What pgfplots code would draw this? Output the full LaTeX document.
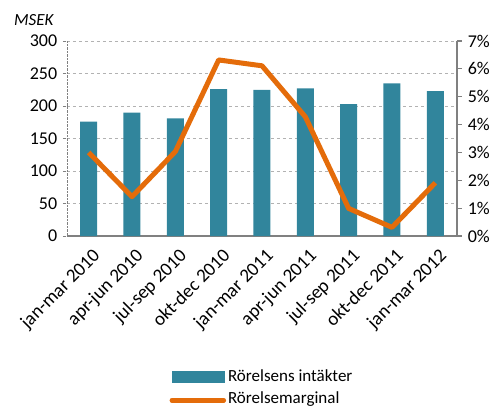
\documentclass[border=0pt]{standalone}
\usepackage{fontspec}
\setmainfont{Carlito}
\usepackage{pgfplots}
\pgfplotsset{compat=1.18}
\definecolor{barcol}{HTML}{31859C}
\definecolor{linecol}{HTML}{E46C0A}
\begin{document}
\fontsize{17}{20}\selectfont
\begin{tikzpicture}
\useasboundingbox (-67pt,-172pt) rectangle (432pt,236pt);
\begin{axis}[
 scale only axis, width=390pt, height=195pt,
 at={(0,0)}, anchor=south west, clip=false,
 xmin=-0.5, xmax=8.5, ymin=0, ymax=300,
 ytick={0,50,...,300},
 xtick={0,...,8},
 xticklabels={jan-mar 2010,apr-jun 2010,jul-sep 2010,okt-dec 2010,jan-mar 2011,apr-jun 2011,jul-sep 2011,okt-dec 2011,jan-mar 2012},
 xticklabel style={rotate=45, anchor=north east, inner sep=1pt, yshift=-6pt, xshift=-2pt, font=\fontsize{19}{22}\selectfont},
 axis x line*=bottom, axis y line*=left,
 x axis line style={gray, line width=1.2pt, -},
 y axis line style={gray, densely dotted, -},
 ymajorgrids, major grid style={gray!60, dashed},
 xtick style={draw=none},
 ytick style={gray, densely dotted},
 tick align=outside, major tick length=4pt,
 ybar, bar width=17pt,
 /pgf/number format/assume math mode=true,
 yticklabel style={font=\fontsize{18}{21}\selectfont},
]
\addplot[fill=barcol, draw=none] coordinates {(0,176) (1,190) (2,181) (3,226) (4,225) (5,227) (6,203) (7,235) (8,223)};
\node[font=\fontsize{17}{20}\selectfont\itshape] at (rel axis cs:-0.085,1.108) {MSEK};
\end{axis}
\begin{axis}[
 scale only axis, width=390pt, height=195pt,
 at={(0,0)}, anchor=south west,
 xmin=-0.5, xmax=8.5, ymin=0, ymax=7,
 axis x line=none, axis y line*=right,
 y axis line style={gray, line width=1.2pt, -},
 ytick={0,...,7},
 yticklabel={\pgfmathprintnumber{\tick}\%},
 ytick style={gray, line width=1.2pt},
 tick align=outside, major tick length=5pt,
 /pgf/number format/assume math mode=true,
 tick label style={font=\fontsize{18}{21}\selectfont},
 legend style={at={(0.5,-0.78)}, anchor=center, draw=none, fill=none, row sep=4pt, font=\fontsize{17}{20}\selectfont},
 legend cell align=left,
]
\addlegendimage{legend image code/.code={\fill[barcol] (0pt,-5.5pt) rectangle (52pt,5.5pt);}}
\addlegendentry{Rörelsens intäkter}
\addplot[linecol, line width=5pt, line join=round, legend image code/.code={\draw[linecol, line width=4.5pt, line cap=round] (0pt,-1pt) -- (52pt,-1pt);}] coordinates {(0,3.0) (1,1.41) (2,3.03) (3,6.32) (4,6.11) (5,4.28) (6,0.99) (7,0.31) (8,1.91)};
\addlegendentry{Rörelsemarginal}
\end{axis}
\end{tikzpicture}
\end{document}
